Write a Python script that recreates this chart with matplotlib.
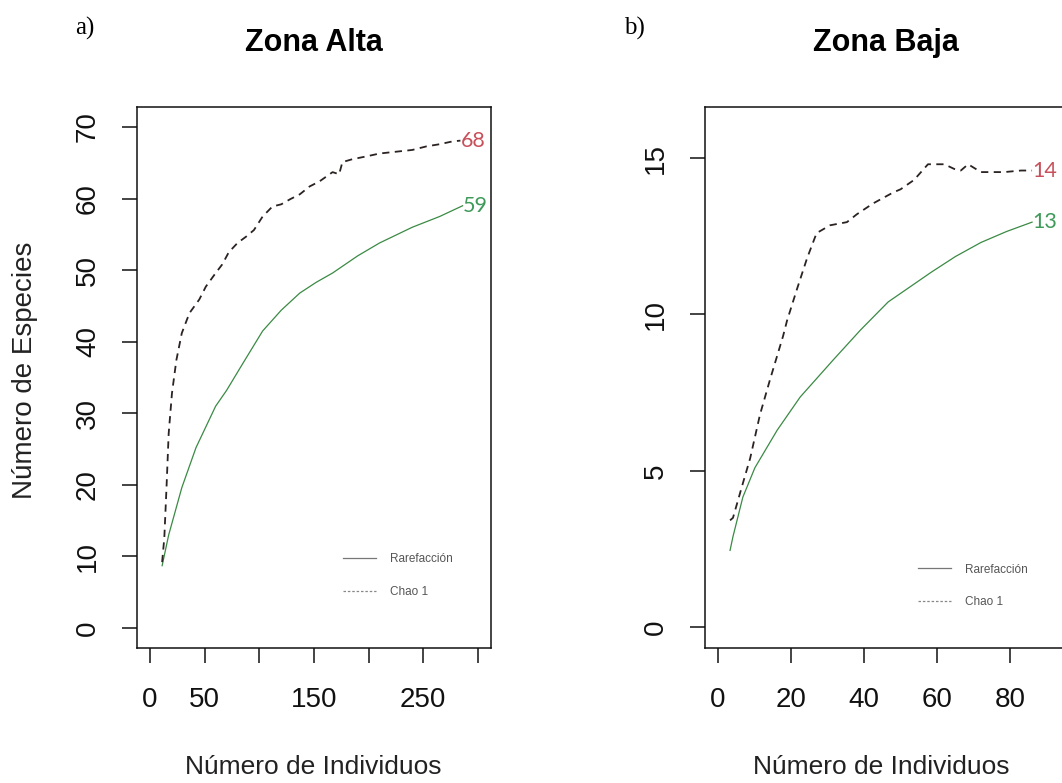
import matplotlib
matplotlib.use('Agg')
import matplotlib.pyplot as plt
from matplotlib.lines import Line2D

# Zona Alta (a)
alta_rare_x = [11, 17, 29, 42, 60, 70, 85, 103, 120, 137, 152, 167, 190, 210, 240, 265, 286]
alta_rare_y = [8.7, 13.0, 19.6, 25.2, 31.0, 33.2, 37.0, 41.5, 44.4, 46.8, 48.3, 49.6, 52.0, 53.8, 56.0, 57.5, 59.0]
alta_chao_x = [11, 13, 15, 17, 20, 24, 29, 36, 45, 51, 60, 66, 72, 80, 88, 95, 103, 112, 120,
               128, 137, 146, 155, 167, 173, 176, 185, 198, 210, 228, 240, 253, 265, 277, 284]
alta_chao_y = [9.2, 12.6, 19.6, 27.2, 32.8, 37.4, 41.2, 44.0, 45.9, 47.7, 49.6, 50.8, 52.5, 53.8,
               54.7, 55.6, 57.5, 58.9, 59.2, 59.9, 60.6, 61.7, 62.4, 63.7, 63.4, 65.1, 65.5, 65.9,
               66.3, 66.6, 66.8, 67.3, 67.6, 68.0, 68.1]

# Zona Baja (b)
baja_rare_x = [3.3, 4.1, 6.8, 10.1, 16.2, 22.5, 31.5, 39, 46.6, 58.4, 65, 72, 79, 86]
baja_rare_y = [2.46, 2.9, 4.16, 5.1, 6.3, 7.36, 8.54, 9.5, 10.4, 11.35, 11.85, 12.3, 12.65, 12.95]
baja_chao_x = [3.3, 4.1, 6.8, 8.8, 11.5, 14.2, 17.8, 18.9, 21.6, 24.4, 27, 30.7, 35.3, 38, 42.5,
               48, 50, 53.7, 57.5, 62, 64.7, 66.5, 68.5, 72, 78.4, 83, 86]
baja_chao_y = [3.42, 3.5, 4.6, 5.4, 6.8, 7.9, 9.3, 9.8, 10.8, 11.8, 12.6, 12.85, 12.95, 13.2, 13.55,
               13.9, 14.0, 14.3, 14.8, 14.8, 14.65, 14.6, 14.8, 14.55, 14.55, 14.6, 14.6]

alta_xticks = [0, 50, 100, 150, 200, 250, 300]
alta_xlabels = ['0', '50', '', '150', '', '250', '']
alta_yticks = [0, 10, 20, 30, 40, 50, 60, 70]
baja_xticks = [0, 20, 40, 60, 80]
baja_yticks = [0, 5, 10, 15]

chao_col = '#2b2222'
rare_col = '#3a8a44'
red_lab = '#c8505a'
green_lab = '#3f9a5a'

plt.rcParams['font.family'] = ['Liberation Sans', 'DejaVu Sans']

fig = plt.figure(figsize=(10.62, 7.83), dpi=100)
ax1 = fig.add_axes([137 / 1062, 1 - 648 / 783, 354 / 1062, 541 / 783])
ax2 = fig.add_axes([705 / 1062, 1 - 648 / 783, 361 / 1062, 541 / 783])


def draw(ax, rx, ry, cx, cy, xlim, ylim, xticks, xlabels, yticks, title, chao_lab, rare_lab, leg_xy):
    ax.plot(rx, ry, color=rare_col, lw=0.9)
    ax.plot(cx, cy, color=chao_col, lw=1.3, dashes=(4, 3))
    ax.text(cx[-1], cy[-1], chao_lab, color=red_lab, fontsize=15.5, family='Lato',
            ha='left', va='center')
    ax.text(rx[-1], ry[-1], rare_lab, color=green_lab, fontsize=15.5, family='Lato',
            ha='left', va='center')
    ax.set_xlim(*xlim)
    ax.set_ylim(*ylim)
    ax.set_xticks(xticks)
    ax.set_xticklabels(xlabels)
    ax.set_yticks(yticks)
    ax.tick_params(axis='both', direction='out', length=11, width=1.1, labelsize=20,
                   colors='#111111')
    ax.tick_params(axis='x', pad=17)
    ax.tick_params(axis='y', pad=15, labelrotation=90)
    for lab in ax.get_yticklabels():
        lab.set_va('center')
    for sp in ax.spines.values():
        sp.set_linewidth(1.1)
        sp.set_color('#111111')
    ax.set_title(title, fontsize=22, fontweight='bold', pad=40)
    handles = [Line2D([], [], color='#777777', lw=0.9),
               Line2D([], [], color='#888888', lw=0.9, dashes=(2, 1.5))]
    ax.legend(handles, ['Rarefacción', 'Chao 1'], loc='upper left', bbox_to_anchor=leg_xy,
              frameon=False, fontsize=8.5, labelcolor='#555555', handlelength=2.8,
              handletextpad=1.2, labelspacing=1.75, borderpad=0, borderaxespad=0)


draw(ax1, alta_rare_x, alta_rare_y, alta_chao_x, alta_chao_y, (-12, 312), (-2.8, 72.8),
     alta_xticks, alta_xlabels, alta_yticks, 'Zona Alta', '68', '59', (0.582, 0.175))
draw(ax2, baja_rare_x, baja_rare_y, baja_chao_x, baja_chao_y, (-3.56, 95.3), (-0.66, 16.63),
     baja_xticks, [str(t) for t in baja_xticks], baja_yticks, 'Zona Baja', '14', '13',
     (0.59, 0.156))

fig.text(25 / 1062, 1 - 370 / 783, 'Número de Especies', rotation=90, fontsize=20,
         ha='center', va='center', color='#222222')
fig.text(313 / 1062, 1 - 767 / 783, 'Número de Individuos', fontsize=19,
         ha='center', va='center', color='#222222')
fig.text(881 / 1062, 1 - 767 / 783, 'Número de Individuos', fontsize=19,
         ha='center', va='center', color='#222222')

fig.text(85 / 1062, 1 - 28 / 783, 'a)', fontsize=18, family='Liberation Serif',
         ha='center', va='center')
fig.text(634 / 1062, 1 - 28 / 783, 'b)', fontsize=18, family='Liberation Serif',
         ha='center', va='center')

fig.savefig('out.png', dpi=100)
